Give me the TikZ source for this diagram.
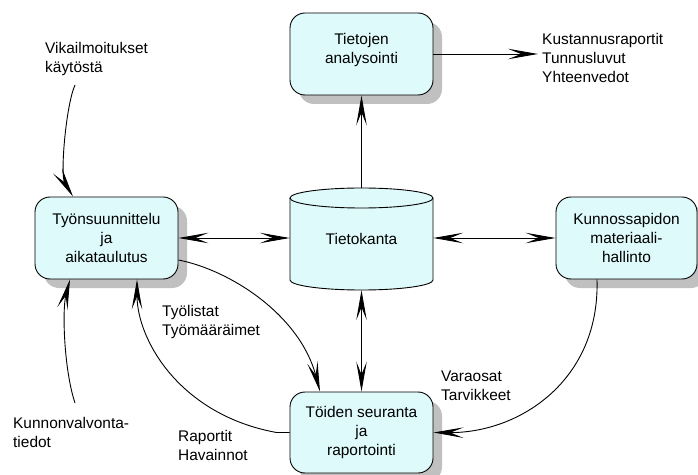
\documentclass[tikz,border=0pt]{standalone}
\usepackage{fontspec}
\setmainfont{Liberation Sans}
\usetikzlibrary{arrows.meta,shadows}
\definecolor{boxfill}{RGB}{222,250,250}
\definecolor{shadowgray}{RGB}{192,192,192}
\begin{document}
\begin{tikzpicture}[x=1bp,y=-1bp,
  every node/.style={font=\fontsize{15.5}{19}\selectfont},
  procbox/.style={draw, line width=0.9bp, fill=boxfill, rounded corners=15bp,
    minimum width=143bp, minimum height=82bp, align=center, inner sep=0pt,
    drop shadow={shadow xshift=9bp, shadow yshift=-9bp, fill=shadowgray, opacity=1}},
  dbbox/.style={minimum width=143bp, minimum height=102bp, inner sep=0pt},
  textlabel/.style={anchor=base west, align=left, inner sep=0pt},
  flow/.style={line width=0.9bp, -{Stealth[length=30bp, width=10.5bp, inset=13bp]}},
  biflow/.style={line width=0.9bp, {Stealth[length=30bp, width=10.5bp, inset=13bp]}-{Stealth[length=30bp, width=10.5bp, inset=13bp]}},
]
\useasboundingbox (0,0) rectangle (698,475);

% database cylinder
\path[draw, line width=0.9bp, fill=boxfill] (290,198) -- (290,280)
  arc[start angle=180, end angle=360, x radius=71.5bp, y radius=10bp]
  -- (433,198)
  arc[start angle=0, end angle=180, x radius=71.5bp, y radius=10bp] -- cycle;
\draw[line width=0.9bp] (290,198)
  arc[start angle=180, end angle=360, x radius=71.5bp, y radius=10bp];
\node[dbbox] (db) at (361.5,239) {Tietokanta};

% process boxes
\node[procbox] (ana) at (361.5,54) {Tietojen\\analysointi\rule[-12bp]{0pt}{0pt}};
\node[procbox] (plan) at (106.5,238) {Työnsuunnittelu\\ja\\aikataulutus};
\node[procbox, minimum width=141bp] (mat) at (626.5,238) {Kunnossapidon\\materiaali-\\hallinto};
\node[procbox, minimum height=81bp] (trk) at (361.5,432.5) {Töiden seuranta\\ja\\raportointi};

% flow labels (anchored at the baseline of their last line)
\node[textlabel] (vik) at (45,72.5) {Vikailmoitukset\\käytöstä};
\node[textlabel] (kust) at (542,82.5) {Kustannusraportit\\Tunnusluvut\\Yhteenvedot};
\node[textlabel] (tyol) at (162,335.5) {Työlistat\\Työmääräimet};
\node[textlabel] (kun) at (13,447.5) {Kunnonvalvonta-\\tiedot};
\node[textlabel] (rap) at (178,460.5) {Raportit\\Havainnot};
\node[textlabel] (var) at (441,400.5) {Varaosat\\Tarvikkeet};

\coordinate (vikstart) at (75,85);
\coordinate (kunstart) at (75,403);

% straight connectors
\draw[flow] (db.north) -- (ana.south);
\draw[flow, shorten >=4bp] (ana.east) -- (ana.east -| kust.west);
\draw[biflow] (plan.east) -- (plan.east -| db.west);
\draw[biflow] (mat.west -| db.east) -- (mat.west);
\draw[biflow] (db.south) -- (trk.north);

% curved connectors
\draw[flow] (vikstart) .. controls (66,105) and (60,175) .. ([xshift=-33.5bp]plan.north);
\draw[flow] (kunstart) .. controls (64,370) and (62,310) .. ([xshift=-36.5bp]plan.south);
\draw[flow] (trk.west) -- ++(-13,0) .. controls (180,415) and (137,340) .. ([xshift=30.5bp]plan.south);
\draw[flow] ([yshift=-22bp]plan.east) .. controls (230,270) and (300,315) .. ([xshift=-41.5bp]trk.north);
\draw[flow] ([xshift=-29.5bp]mat.south) .. controls (600,380) and (520,433) .. (trk.east);
\end{tikzpicture}
\end{document}
